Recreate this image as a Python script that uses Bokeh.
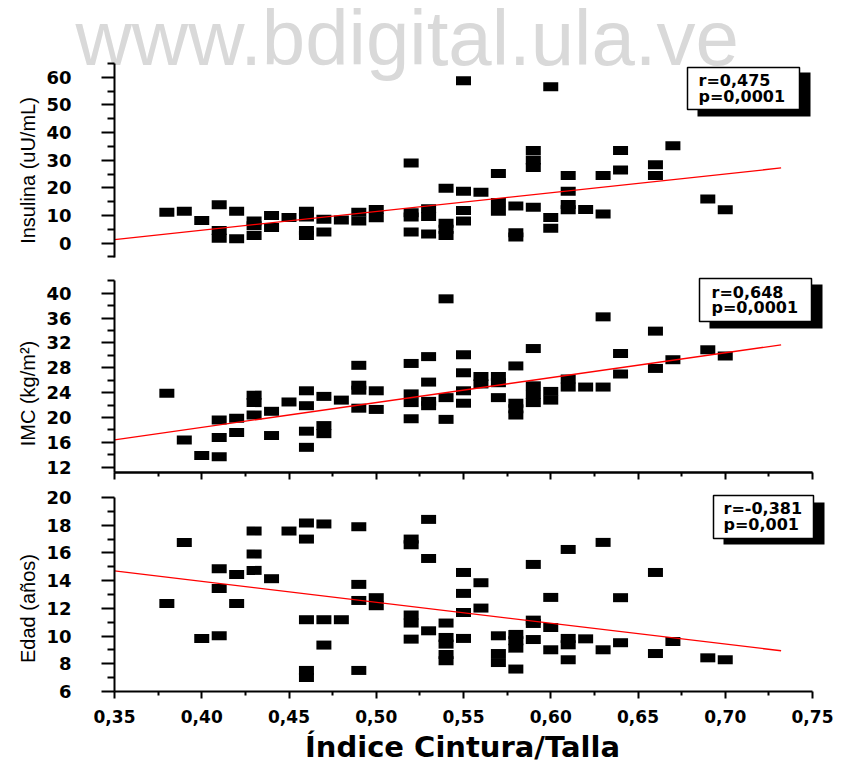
import math
from bokeh.plotting import figure
from bokeh.models import Range1d, FixedTicker, Label, BoxAnnotation, LinearAxis
from bokeh.embed import file_html
from bokeh.resources import INLINE

# ---------------- data ----------------
x_ticks = [0.35, 0.40, 0.45, 0.50, 0.55, 0.60, 0.65, 0.70, 0.75]
x_tick_labels = ["0,35", "0,40", "0,45", "0,50", "0,55", "0,60", "0,65", "0,70", "0,75"]
x_minor = [0.375, 0.425, 0.475, 0.525, 0.575, 0.625, 0.675, 0.725]

ins_x = [0.38, 0.39, 0.40, 0.41, 0.41, 0.41, 0.42, 0.42, 0.43, 0.43, 0.43, 0.44, 0.44, 0.45,
         0.46, 0.46, 0.46, 0.46, 0.47, 0.47, 0.48, 0.49, 0.49, 0.50, 0.50, 0.52, 0.52, 0.52, 0.52,
         0.53, 0.53, 0.53, 0.54, 0.54, 0.54, 0.54, 0.55, 0.55, 0.55, 0.55, 0.56, 0.57, 0.57, 0.57,
         0.58, 0.58, 0.58, 0.59, 0.59, 0.59, 0.59, 0.60, 0.60, 0.60, 0.61, 0.61, 0.61, 0.61, 0.62,
         0.63, 0.63, 0.64, 0.64, 0.66, 0.66, 0.67, 0.69, 0.70]
insulina = [11.2, 11.5, 8.2, 13.9, 4.6, 1.8, 11.5, 1.6, 8.0, 6.3, 2.8, 10.0, 5.7, 9.3,
            11.5, 9.5, 4.6, 2.8, 8.6, 4.0, 8.4, 11.2, 8.0, 12.2, 9.2, 29.0, 11.0, 9.5, 4.0,
            12.4, 9.6, 3.3, 19.9, 7.2, 5.0, 2.8, 58.8, 18.8, 11.8, 8.0, 18.4, 25.2, 14.7, 11.5,
            13.4, 3.8, 2.2, 33.5, 30.1, 27.4, 13.0, 56.6, 9.3, 5.4, 24.5, 18.8, 14.0, 12.1, 12.2,
            24.5, 10.5, 33.5, 26.5, 28.4, 24.5, 35.2, 16.0, 12.1]

imc_x = [0.38, 0.39, 0.40, 0.41, 0.41, 0.41, 0.42, 0.42, 0.43, 0.43, 0.43, 0.44, 0.44, 0.45,
         0.46, 0.46, 0.46, 0.46, 0.47, 0.47, 0.47, 0.48, 0.49, 0.49, 0.49, 0.49, 0.50, 0.50,
         0.52, 0.52, 0.52, 0.52, 0.53, 0.53, 0.53, 0.53, 0.54, 0.54, 0.54, 0.55, 0.55, 0.55, 0.55,
         0.56, 0.56, 0.57, 0.57, 0.57, 0.58, 0.58, 0.58, 0.58, 0.59, 0.59, 0.59, 0.59,
         0.60, 0.60, 0.61, 0.61, 0.62, 0.63, 0.63, 0.64, 0.64, 0.66, 0.66, 0.67, 0.69, 0.70]
imc = [23.9, 16.4, 13.9, 19.6, 16.8, 13.7, 19.9, 17.6, 23.6, 22.4, 20.4, 21.0, 17.1, 22.5,
       24.3, 21.9, 17.8, 15.2, 23.4, 18.7, 17.4, 22.8, 28.4, 25.2, 24.4, 21.5, 24.3, 21.3,
       28.7, 23.8, 22.4, 19.8, 29.8, 25.7, 22.6, 21.9, 39.1, 23.2, 19.7, 30.1, 27.2, 24.3, 22.3,
       26.6, 25.4, 26.6, 25.6, 23.2, 28.3, 22.3, 21.4, 20.4, 31.1, 25.1, 23.7, 22.4,
       24.2, 22.8, 26.2, 24.9, 24.9, 36.2, 24.9, 30.3, 27.0, 33.9, 27.9, 29.3, 30.9, 29.9]

edad_x = [0.38, 0.39, 0.40, 0.41, 0.41, 0.41, 0.42, 0.42, 0.43, 0.43, 0.43, 0.44, 0.45,
          0.46, 0.46, 0.46, 0.46, 0.46, 0.47, 0.47, 0.47, 0.48, 0.49, 0.49, 0.49, 0.49, 0.50, 0.50,
          0.52, 0.52, 0.52, 0.52, 0.52, 0.53, 0.53, 0.53, 0.54, 0.54, 0.54, 0.54, 0.54,
          0.55, 0.55, 0.55, 0.55, 0.56, 0.56, 0.57, 0.57, 0.57, 0.58, 0.58, 0.58, 0.58,
          0.59, 0.59, 0.59, 0.59, 0.60, 0.60, 0.60, 0.61, 0.61, 0.61, 0.61, 0.62, 0.63, 0.63,
          0.64, 0.64, 0.66, 0.66, 0.67, 0.69, 0.70]
edad = [12.35, 16.76, 9.83, 14.86, 13.44, 10.02, 14.45, 12.35, 17.58, 15.92, 14.74, 14.14, 17.58,
        18.16, 17.0, 11.18, 7.52, 7.01, 18.09, 11.18, 9.35, 11.18, 17.89, 13.73, 12.57, 7.52, 12.77, 12.19,
        17.0, 16.59, 11.52, 10.94, 9.78, 18.42, 15.6, 10.38, 10.94, 9.9, 9.42, 8.67, 8.22,
        14.59, 13.08, 11.7, 9.83, 13.85, 12.02, 10.02, 8.74, 8.09, 10.12, 9.66, 9.13, 7.62,
        15.17, 11.15, 10.91, 9.75, 12.79, 10.62, 9.01, 16.25, 9.83, 9.37, 8.29, 9.8, 16.76, 9.01,
        12.77, 9.52, 14.59, 8.74, 9.61, 8.43, 8.29]

# regression lines (end points)
fit_x = [0.35, 0.732]
ins_fit = [1.3, 27.2]
imc_fit = [16.4, 31.7]
edad_fit = [14.7, 8.94]

ins_stats = ["r=0,475", "p=0,0001"]
imc_stats = ["r=0,648", "p=0,0001"]
edad_stats = ["r=-0,381", "p=0,001"]

ins_ticks = [0, 10, 20, 30, 40, 50, 60]
ins_minor = [-5, 5, 15, 25, 35, 45, 55, 65]
imc_ticks = [12, 16, 20, 24, 28, 32, 36, 40]
imc_minor = [14, 18, 22, 26, 30, 34, 38, 42]
edad_ticks = [6, 8, 10, 12, 14, 16, 18, 20]
edad_minor = [7, 9, 11, 13, 15, 17, 19]

ins_bounds = (-5.2, 65.0)
imc_bounds = (11.15, 42.05)
edad_bounds = (6.0, 20.0)
x_bounds = (0.35, 0.75)

# ---------------- page geometry (pixels) ----------------
W, H = 841, 760
PX_L, PX_R = 114, 812              # pixel x of 0.35 and 0.75
PANEL_PX = {"ins": (63, 257), "imc": (280, 472), "edad": (497, 691)}   # top/bottom of each panel

KX = (PX_R - PX_L) / (x_bounds[1] - x_bounds[0])
x_range = Range1d(x_bounds[0] - PX_L / KX, x_bounds[0] + (W - PX_L) / KX)


def y_range_for(bounds, px):
    top, bot = px
    k = (bot - top) / (bounds[1] - bounds[0])
    return Range1d(bounds[0] - (H - bot) / k, bounds[1] + top / k)


r_ins = y_range_for(ins_bounds, PANEL_PX["ins"])
r_imc = y_range_for(imc_bounds, PANEL_PX["imc"])
r_edad = y_range_for(edad_bounds, PANEL_PX["edad"])

p = figure(width=W, height=H, title=None, x_range=x_range, y_range=r_ins,
           output_backend="svg", toolbar_location=None,
           x_axis_location=None, y_axis_location=None,
           min_border_left=0, min_border_right=0, min_border_top=0, min_border_bottom=0)
p.extra_y_ranges = {"imc": r_imc, "edad": r_edad}
p.outline_line_color = None
p.grid.visible = False
p.background_fill_color = "white"
p.border_fill_color = "white"

# helpers to place decorations at page pixels (default ranges span the whole page)
KY = H / (r_ins.end - r_ins.start)


def sx(px):
    return x_range.start + px / KX


def sy(py):
    return r_ins.end - py / KY


TICK_FONT = "DejaVu Sans"
LBL_FONT = "Liberation Sans"

# watermark (vertical middle of the text line)
p.add_layout(Label(x=sx(75), y=sy(37), text="www.bdigital.ula.ve",
                   text_font=LBL_FONT, text_font_size="78px", text_color="#d9d9d9",
                   text_baseline="middle", text_align="left", level="underlay"))


def style_axis(ax, tick_out, minor_out):
    ax.axis_line_width = 2
    ax.axis_line_color = "black"
    ax.major_tick_line_width = 2
    ax.minor_tick_line_width = 2
    ax.major_tick_in = 0
    ax.minor_tick_in = 0
    ax.major_tick_out = tick_out
    ax.minor_tick_out = minor_out


panels = [
    ("default", ins_x, insulina, ins_bounds, ins_ticks, ins_minor, ins_fit, ins_stats,
     "Insulina (uU/mL)", 170, (687, 67, 799, 109), (697, 72, 810, 116), (698, 80, 95.5)),
    ("imc", imc_x, imc, imc_bounds, imc_ticks, imc_minor, imc_fit, imc_stats,
     "IMC (kg/m²)", 393, (699, 278, 811, 321), (709, 284, 822, 328), (711, 291.5, 306.5)),
    ("edad", edad_x, edad, edad_bounds, edad_ticks, edad_minor, edad_fit, edad_stats,
     "Edad (años)", 608, (713, 495, 813, 538), (723, 502, 824, 544), (723, 508, 523.5)),
]

for (rname, xs, ys, bnds, ticks, minor, fit_y, stats, ylabel, ylabel_cy,
     box, shadow, txt) in panels:
    # y axis of the panel
    ya = LinearAxis(y_range_name=rname, fixed_location=x_bounds[0], bounds=bnds,
                    ticker=FixedTicker(ticks=ticks, minor_ticks=minor))
    style_axis(ya, 13, 7)
    ya.major_label_standoff = 30
    ya.major_label_text_font = TICK_FONT
    ya.major_label_text_font_style = "bold"
    ya.major_label_text_font_size = "18px"
    ya.major_label_text_color = "black"
    p.add_layout(ya, "left")

    # y axis title
    p.add_layout(Label(x=sx(27), y=sy(ylabel_cy), text=ylabel, angle=math.pi / 2,
                       text_font=LBL_FONT, text_font_size="20px", text_color="black",
                       text_align="center", text_baseline="middle"))

    # points and regression line
    p.rect(xs, ys, width=15, height=9, width_units="screen", height_units="screen",
           fill_color="black", line_color=None, y_range_name=rname)
    p.line(fit_x, fit_y, line_color="red", line_width=1.3, y_range_name=rname)

    # statistics box with drop shadow
    p.add_layout(BoxAnnotation(left=sx(shadow[0]), right=sx(shadow[2]), top=sy(shadow[1]),
                               bottom=sy(shadow[3]), fill_color="black", fill_alpha=1,
                               line_color=None))
    p.add_layout(BoxAnnotation(left=sx(box[0]), right=sx(box[2]), top=sy(box[1]),
                               bottom=sy(box[3]), fill_color="white", fill_alpha=1,
                               line_color="black", line_width=1.5, line_alpha=1))
    for s, cy in zip(stats, txt[1:]):
        p.add_layout(Label(x=sx(txt[0]), y=sy(cy), text=s, text_font=TICK_FONT,
                           text_font_style="bold", text_font_size="16px", text_color="black",
                           text_baseline="middle", text_align="left"))

# x axis under the IMC panel: tick marks only (drawn as two label-free tick sets)
for tks, out in ((x_ticks, 7), (x_minor, 4)):
    xa = LinearAxis(y_range_name="imc", fixed_location=imc_bounds[0], bounds=x_bounds,
                    ticker=FixedTicker(ticks=[], minor_ticks=tks))
    style_axis(xa, 7, out)
    p.add_layout(xa, "below")

# x axis under the Edad panel, with labels
xa = LinearAxis(y_range_name="edad", fixed_location=edad_bounds[0], bounds=x_bounds,
                ticker=FixedTicker(ticks=x_ticks, minor_ticks=x_minor))
style_axis(xa, 7, 4)
xa.major_label_overrides = dict(zip(x_ticks, x_tick_labels))
xa.major_label_standoff = 11
xa.major_label_text_font = TICK_FONT
xa.major_label_text_font_style = "bold"
xa.major_label_text_font_size = "17px"
xa.major_label_text_color = "black"
p.add_layout(xa, "below")

# x axis title
p.add_layout(Label(x=sx(462), y=sy(746), text="Índice Cintura/Talla",
                   text_font=TICK_FONT, text_font_style="bold", text_font_size="29px",
                   text_color="black", text_align="center", text_baseline="middle"))

html = file_html(p, INLINE, title="plot")
html = html.replace("</head>", "<style>html,body{overflow:hidden;}</style></head>", 1)
open("out.html", "w").write(html)
